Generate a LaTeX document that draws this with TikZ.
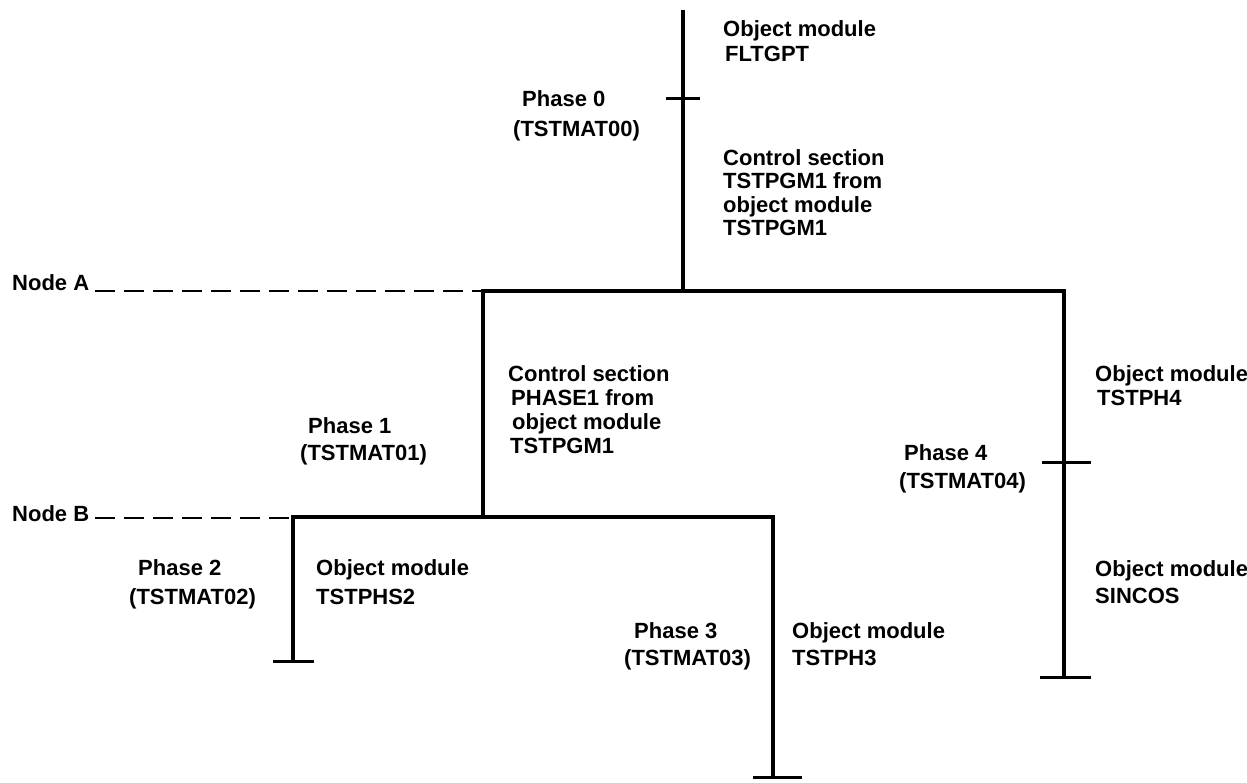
\documentclass[tikz,border=0pt]{standalone}
\usepackage{fontspec}
\setmainfont{Liberation Sans}
\newcommand{\lab}[2][27pt]{\vtop{\baselineskip=#1\lineskiplimit=-100pt\halign{##\hfil\cr#2\crcr}}}
\tikzset{
  lbl/.style={inner sep=0pt, anchor=base west, font=\bfseries\fontsize{22}{27}\selectfont},
  branch/.style={line width=3.6pt, line cap=rect},
  tickline/.style={line width=3pt},
  nodeline/.style={line width=2pt, dash pattern=on 20pt off 9pt},
}
\begin{document}
\begin{tikzpicture}[x=1pt,y=-1pt]
\useasboundingbox (0,0) rectangle (1247,782);
% junction coordinates
\coordinate (top) at (683,12);
\coordinate (j0) at (683,291);
\coordinate (nA) at (483,291);
\coordinate (r0) at (1064,291);
\coordinate (nB) at (483,517);
\coordinate (b2) at (293,517);
\coordinate (b3) at (773,517);
\coordinate (e2) at (293,661);
\coordinate (e3) at (773,777);
\coordinate (e4) at (1064,677);
\coordinate (m0) at (683,98);
\coordinate (m4) at (1064,462);
\coordinate (dA) at (95,291);
\coordinate (dB) at (95,518);
\coordinate (nBd) at (293,518);
% tick coordinates
\coordinate (t0l) at (666,98);  \coordinate (t0r) at (700,98);
\coordinate (t4l) at (1042,462); \coordinate (t4r) at (1091,462);
\coordinate (t2l) at (273,661); \coordinate (t2r) at (314,661);
\coordinate (t3l) at (753,777); \coordinate (t3r) at (802,777);
\coordinate (t5l) at (1040,677); \coordinate (t5r) at (1091,677);

% dashed node lines
\draw[nodeline] (dA) -- (nA);
\draw[nodeline] (dB) -- (nBd);
% tree
\draw[branch] (top) -- (j0);
\draw[branch] (nA) -- (r0) -- (e4);
\draw[branch] (nA) -- (nB);
\draw[branch] (b2) -- (b3) -- (e3);
\draw[branch] (b2) -- (e2);
% ticks
\draw[tickline] (t0l) -- (t0r);
\draw[tickline] (t4l) -- (t4r);
\draw[tickline] (t2l) -- (t2r);
\draw[tickline] (t3l) -- (t3r);
\draw[tickline] (t5l) -- (t5r);

% labels
\node[lbl] (nodeA) at (12,290) {Node A};
\node[lbl] (nodeB) at (12,521) {Node B};
\node[lbl] (om0) at (723,36) {\lab[25pt]{Object module\cr \kern2pt FLTGPT}};
\node[lbl] (ph0) at (513,106) {\lab[30pt]{\kern9pt Phase 0\cr (TSTMAT00)}};
\node[lbl] (cs0) at (723,165) {\lab[23.5pt]{Control section\cr TSTPGM1 from\cr object module\cr TSTPGM1}};
\node[lbl] (cs1) at (508,381) {\lab[24pt]{Control section\cr \kern3pt PHASE1 from\cr \kern4pt object module\cr \kern2pt TSTPGM1}};
\node[lbl] (ph1) at (300,433) {\lab[27pt]{\kern8pt Phase 1\cr (TSTMAT01)}};
\node[lbl] (om4) at (1095,381) {\lab[24pt]{Object module\cr \kern2pt TSTPH4}};
\node[lbl] (ph4) at (899,460) {\lab[28pt]{\kern5pt Phase 4\cr (TSTMAT04)}};
\node[lbl] (om5) at (1095,576) {\lab[27pt]{Object module\cr SINCOS}};
\node[lbl] (ph2) at (129,575) {\lab[29pt]{\kern9pt Phase 2\cr (TSTMAT02)}};
\node[lbl] (om2) at (316,575) {\lab[29pt]{Object module\cr TSTPHS2}};
\node[lbl] (ph3) at (624,638) {\lab[27pt]{\kern10pt Phase 3\cr (TSTMAT03)}};
\node[lbl] (om3) at (792,638) {\lab[27pt]{Object module\cr TSTPH3}};
\end{tikzpicture}
\end{document}
